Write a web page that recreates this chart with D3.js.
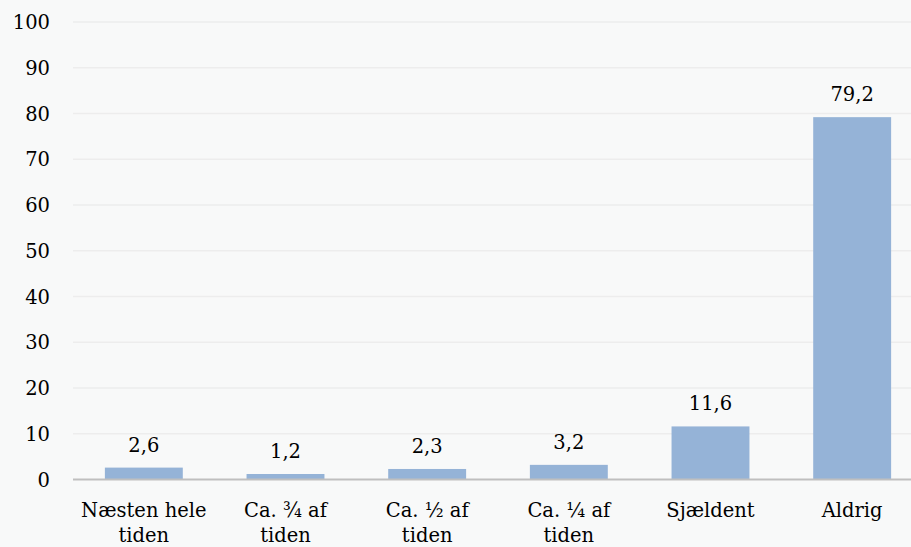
<!DOCTYPE html>
<html>
<head>
<meta charset="utf-8">
<script src="https://cdn.jsdelivr.net/npm/d3@7"></script>
<style>
  html, body { margin: 0; padding: 0; background: #f8f9f9; }
  svg { display: block; }
</style>
</head>
<body>
<svg id="chart"></svg>
<script>
// chart data
const categories = [["Næsten hele", "tiden"], ["Ca. ¾ af", "tiden"], ["Ca. ½ af", "tiden"], ["Ca. ¼ af", "tiden"], ["Sjældent"], ["Aldrig"]];
const values = [2.6, 1.2, 2.3, 3.2, 11.6, 79.2];
const yTicks = [0, 10, 20, 30, 40, 50, 60, 70, 80, 90, 100];

const width = 911;
const height = 547;
const fontFamily = "'DejaVu Serif', serif";
const fontSize = 19.5;

const svg = d3.select("#chart")
    .attr("width", width)
    .attr("height", height)
    .style("background", "#f8f9f9");

const x = d3.scaleBand()
    .domain(d3.range(categories.length))
    .range([73, 923])
    .paddingInner(0.45)
    .paddingOuter(0.225);

const y = d3.scaleLinear()
    .domain([0, 100])
    .range([479.5, 22]);

// gridlines
svg.append("g")
  .selectAll("line")
  .data(yTicks.filter(d => d > 0))
  .join("line")
    .attr("x1", 73).attr("x2", width)
    .attr("y1", d => y(d)).attr("y2", d => y(d))
    .attr("stroke", "#ededed")
    .attr("stroke-width", 1.5);

// y tick labels
svg.append("g")
  .selectAll("text")
  .data(yTicks)
  .join("text")
    .attr("x", 50)
    .attr("y", d => y(d))
    .attr("dy", "0.36em")
    .attr("text-anchor", "end")
    .attr("font-family", fontFamily)
    .attr("font-size", fontSize)
    .attr("fill", "#000")
    .text(d => d);

// bars
svg.append("g")
  .selectAll("rect")
  .data(values)
  .join("rect")
    .attr("x", (d, i) => x(i))
    .attr("width", x.bandwidth())
    .attr("y", d => y(d))
    .attr("height", d => y(0) - y(d))
    .attr("fill", "#95b3d7");

// x axis line
svg.append("line")
    .attr("x1", 73).attr("x2", width)
    .attr("y1", y(0)).attr("y2", y(0))
    .attr("stroke", "#bfbfbf")
    .attr("stroke-width", 2);

// value labels
svg.append("g")
  .selectAll("text")
  .data(values)
  .join("text")
    .attr("x", (d, i) => x(i) + x.bandwidth() / 2)
    .attr("y", d => y(d) - 16)
    .attr("text-anchor", "middle")
    .attr("font-family", fontFamily)
    .attr("font-size", fontSize)
    .attr("fill", "#000")
    .text(d => String(d).replace(".", ","));

// category labels
const cat = svg.append("g")
  .selectAll("text")
  .data(categories)
  .join("text")
    .attr("x", (d, i) => x(i) + x.bandwidth() / 2)
    .attr("y", 517)
    .attr("text-anchor", "middle")
    .attr("font-family", fontFamily)
    .attr("font-size", fontSize)
    .attr("fill", "#000");

cat.selectAll("tspan")
  .data(d => d)
  .join("tspan")
    .attr("x", function() { return this.parentNode.getAttribute("x"); })
    .attr("dy", (d, i) => i === 0 ? 0 : 25)
    .text(d => d);
</script>
</body>
</html>
